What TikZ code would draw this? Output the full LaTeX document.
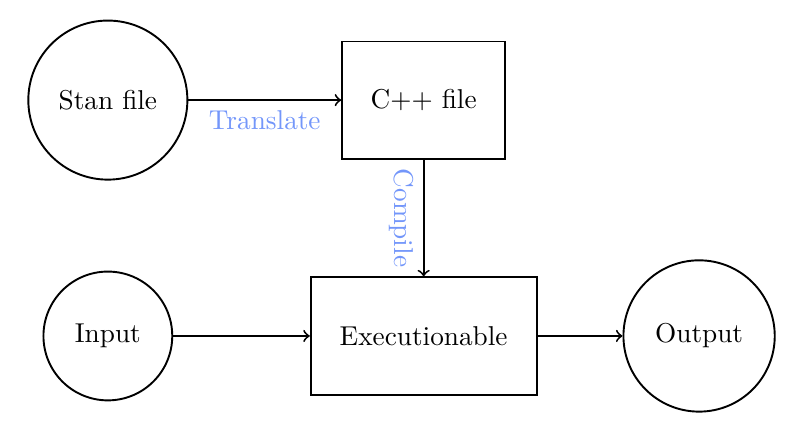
\documentclass[tikz,border=0pt]{standalone}
\usepackage{amsmath}
\usepackage{tikz}
\usetikzlibrary{arrows,positioning}

\definecolor{labelblue}{RGB}{115,150,250}

\begin{document}
\begin{tikzpicture}[node distance=4.07cm,on grid,auto,line width=0.7pt,
        file/.style={circle,draw,inner sep=0pt},
        prog/.style={rectangle,draw,minimum height=1.51cm}]
    \useasboundingbox (0,0) rectangle (10.13,5.71);
    \node[file,minimum size=2.05cm] (stan) at (1.39,4.42) {Stan file};
    \node[prog,minimum width=2.10cm] [right=of stan] (cpp) {C++ file};
    \node[prog,minimum width=2.91cm] [below=3.04cm of cpp] (exe) {Executionable};
    \node[file,minimum size=1.66cm] [left=of exe] (input) {Input};
    \node[file,minimum size=1.95cm] [right=3.55cm of exe] (output) {Output};
    \path[->]
    (stan) edge node[anchor=north,text=labelblue] {Translate} (cpp)
    (cpp) edge node[midway,rotate=-90,anchor=north,text=labelblue] {Compile} (exe)
    (input) edge (exe)
    (exe) edge (output);
\end{tikzpicture}
\end{document}
